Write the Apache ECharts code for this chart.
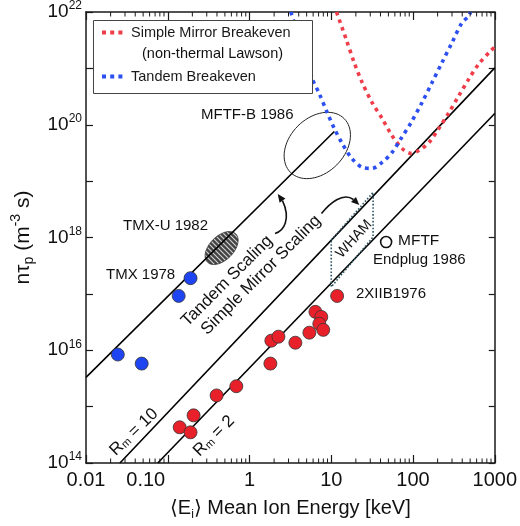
<!DOCTYPE html>
<html>
<head>
<meta charset="utf-8">
<script src="https://cdn.jsdelivr.net/npm/echarts@6/dist/echarts.min.js"></script>
<style>
  html, body { margin: 0; padding: 0; background: #fff; }
  #chart { width: 520px; height: 526px; }
</style>
</head>
<body>
<div id="chart"></div>
<script>
const FONT = '"Liberation Sans", Arial, "DejaVu Sans", sans-serif';

// Tick labels, one per decade
const xTickLabels = ['0.01', '0.10', '1', '10', '100', '1000'];
const yLabelledExponents = [14, 16, 18, 20, 22];

// Measured confinement: [mean ion energy (keV), n*tau (m^-3 s)]
const tandemShots = [[0.0245, 8.4e15], [0.048, 5.8e15], [0.136, 9.2e16], [0.19, 1.9e17]];
const mirrorShots = [
  [0.14, 4.3e14], [0.19, 3.5e14], [0.207, 7.0e14], [0.396, 1.58e15], [0.69, 2.3e15],
  [1.8, 5.8e15], [1.85, 1.48e16], [2.26, 1.74e16], [3.64, 1.36e16], [5.4, 2.05e16],
  [6.4, 4.8e16], [7.55, 3.9e16], [7.14, 2.95e16], [7.98, 2.3e16], [11.8, 9.2e16]
];
const mftfEndplug = [[46.9, 8.3e17]];

// Scaling laws
const tandemScaling = [[0.01, 3.3e15], [10.9, 7.6e19]];
const mirrorRm10 = [[0.026, 1e14], [1000, 1.02e21]];
const mirrorRm2 = [[0.0755, 1e14], [1000, 1.58e20]];

// Breakeven requirements
const simpleMirrorBreakeven = [
  [11.6, 1.0e22], [15.2, 3.3e21], [19.1, 1.26e21], [23.9, 5.6e20], [31.6, 2.47e20],
  [41.9, 1.29e20], [55.5, 6.4e19], [73.5, 3.8e19], [94.6, 3.1e19], [118, 3.5e19],
  [157, 4.85e19], [207, 8.6e19], [275, 1.64e20], [364, 3.28e20], [482, 6.5e20],
  [638, 1.2e21], [893, 2.05e21], [1000, 2.4e21]
];
const tandemBreakeven = [
  [3.2, 1.0e22], [5.86, 6.55e20], [7.14, 3.56e20], [8.93, 1.64e20], [10.9, 8.57e19],
  [13.6, 4.66e19], [17.5, 2.63e19], [23.9, 1.75e19], [31.6, 1.68e19], [41.9, 2.15e19],
  [55.5, 3.23e19], [71.4, 5.7e19], [94.6, 1.09e20], [128.8, 2.47e20], [170.6, 5.57e20],
  [225.9, 1.26e21], [299, 2.83e21], [396, 6.4e21], [482, 8.5e21], [505, 1.0e22]
];

// WHAM operating window (closed outline)
const whamWindow = [[10, 9.0e17], [32.5, 6.3e18], [32.5, 1.02e18], [10, 1.33e17], [10, 9.0e17]];

// Design targets (ellipse centres)
const mftfBTarget = [[6.75, 4.29e19]];
const tmxuTarget = [[0.456, 6.5e17]];

// Minor ticks on the energy axis: 2..9 within each decade
const minorMultipliers = [2, 3, 4, 5, 6, 7, 8, 9];
const energyDecades = [0.01, 0.1, 1, 10, 100];
const energyMinorTicks = [];
energyDecades.forEach(d => minorMultipliers.forEach(m => energyMinorTicks.push([d * m, 1e18])));

// Hatch fill for the TMX-U target
const hatch = document.createElement('canvas');
hatch.width = 5; hatch.height = 5;
(function () {
  const g = hatch.getContext('2d');
  g.fillStyle = '#444';
  g.fillRect(0, 0, 5, 5);
  g.strokeStyle = '#d4d4d4';
  g.lineWidth = 1.1;
  g.beginPath();
  g.moveTo(0, 0); g.lineTo(5, 5);
  g.moveTo(-1, 4); g.lineTo(1, 6);
  g.moveTo(4, -1); g.lineTo(6, 1);
  g.stroke();
})();

// Tilted ellipse outline around a data point, as a polygon in pixel space
function ellipseRenderer(rx, ry, angle, style) {
  return function (params, api) {
    const p = api.coord([api.value(0), api.value(1)]);
    const pts = [];
    const c = Math.cos(angle), s = Math.sin(angle);
    for (let i = 0; i < 72; i++) {
      const t = i / 72 * Math.PI * 2;
      const ex = rx * Math.cos(t), ey = ry * Math.sin(t);
      pts.push([p[0] + ex * c + ey * s, p[1] - ex * s + ey * c]);
    }
    return { type: 'polygon', shape: { points: pts }, style: style };
  };
}

function arrow(curve, tip) {
  const base = [curve[6], curve[7]];
  const dx = tip[0] - base[0], dy = tip[1] - base[1];
  const len = Math.hypot(dx, dy);
  const nx = -dy / len * 3.6, ny = dx / len * 3.6;
  return [
    {
      type: 'bezierCurve', z: 6,
      shape: { x1: curve[0], y1: curve[1], cpx1: curve[2], cpy1: curve[3], cpx2: curve[4], cpy2: curve[5], x2: curve[6], y2: curve[7] },
      style: { stroke: '#111', lineWidth: 1.6, fill: null }
    },
    {
      type: 'polygon', z: 6,
      shape: { points: [tip, [base[0] + nx, base[1] + ny], [base[0] - nx, base[1] - ny]] },
      style: { fill: '#111' }
    }
  ];
}

function label(text, x, y, opts) {
  opts = opts || {};
  return {
    type: 'text', z: 6, x: x, y: y, rotation: opts.rotation || 0,
    style: {
      text: text, fontSize: opts.fontSize || 15, fontFamily: FONT, fill: '#111',
      align: opts.align || 'left', verticalAlign: 'middle',
      rich: opts.rich
    }
  };
}

const rmRich = {
  a: { fontSize: 17, fontFamily: FONT, fill: '#111' },
  m: { fontSize: 11, fontFamily: FONT, fill: '#111', verticalAlign: 'bottom', lineHeight: 11 }
};

const axisColor = '#1a1a1a';

const chart = echarts.init(document.getElementById('chart'));
chart.setOption({
  animation: false,
  grid: { left: 86, right: 24, top: 11, bottom: 62 },
  legend: {
    orient: 'vertical', left: 95, top: 20, z: 10,
    itemWidth: 24, itemHeight: 14, itemGap: 29,
    selectedMode: false,
    itemStyle: { opacity: 0 },
    lineStyle: { width: 4, type: [4, 4.2], cap: 'butt' },
    data: ['Simple Mirror Breakeven', 'Tandem Breakeven'],
    textStyle: { fontSize: 14.5, color: '#1a1a1a', fontFamily: FONT }
  },
  xAxis: [
    {
      type: 'log', logBase: 10, min: 0.01, max: 1000, position: 'bottom',
      axisLine: { lineStyle: { color: axisColor, width: 1.5 } },
      axisTick: { inside: true, length: 8, lineStyle: { color: axisColor, width: 1.2 } },
      axisLabel: {
        margin: 7, fontSize: 20, color: '#111', fontFamily: FONT,
        formatter: v => {
          const i = Math.round(Math.log10(v)) + 2;
          return i === 1 ? '{l|' + xTickLabels[i] + '}' : xTickLabels[i];
        },
        rich: { l: { fontSize: 20, fontFamily: FONT, color: '#111', padding: [0, 44, 0, 0] } }
      },
      splitLine: { show: false },
      name: '{n|⟨E}{sub|i}{n|⟩ Mean Ion Energy [keV]}',
      nameLocation: 'middle', nameGap: 32,
      nameTextStyle: {
        color: '#111', fontFamily: FONT,
        rich: {
          n: { fontSize: 20, lineHeight: 26, fontFamily: FONT, color: '#111' },
          sub: { fontSize: 12, lineHeight: 12, verticalAlign: 'bottom', fontFamily: FONT, color: '#111' }
        }
      }
    },
    {
      type: 'log', logBase: 10, min: 0.01, max: 1000, position: 'top',
      axisLine: { lineStyle: { color: axisColor, width: 1.5 } },
      axisTick: { inside: true, length: 8, lineStyle: { color: axisColor, width: 1.2 } },
      axisLabel: { show: false },
      splitLine: { show: false }
    }
  ],
  yAxis: [
    {
      type: 'log', logBase: 10, min: 1e14, max: 1e22, position: 'left',
      axisLine: { lineStyle: { color: axisColor, width: 1.5 } },
      axisTick: { inside: true, length: 7, lineStyle: { color: axisColor, width: 1.2 } },
      axisLabel: {
        margin: 4, color: '#111', fontFamily: FONT,
        formatter: v => {
          const e = Math.round(Math.log10(v));
          return yLabelledExponents.indexOf(e) >= 0 ? '{b|10}{s|' + e + '}' : '';
        },
        rich: {
          b: { fontSize: 19, lineHeight: 24, fontFamily: FONT, color: '#111' },
          s: { fontSize: 12, lineHeight: 12, verticalAlign: 'top', fontFamily: FONT, color: '#111' }
        }
      },
      splitLine: { show: false },
      name: '{n|nτ}{sub|p}{n| (m}{sup|-3}{n| s)}',
      nameLocation: 'middle', nameGap: 40, nameRotate: 90,
      nameTextStyle: {
        color: '#111', fontFamily: FONT,
        rich: {
          n: { fontSize: 21, lineHeight: 27, fontFamily: FONT, color: '#111' },
          sub: { fontSize: 14, lineHeight: 14, verticalAlign: 'bottom', fontFamily: FONT, color: '#111' },
          sup: { fontSize: 14, lineHeight: 14, verticalAlign: 'top', fontFamily: FONT, color: '#111' }
        }
      }
    },
    {
      type: 'log', logBase: 10, min: 1e14, max: 1e22, position: 'right',
      axisLine: { lineStyle: { color: axisColor, width: 1.5 } },
      axisTick: { inside: true, length: 6, lineStyle: { color: axisColor, width: 1.2 } },
      axisLabel: { show: false },
      splitLine: { show: false }
    }
  ],
  graphic: [
    { type: 'rect', z: 5, shape: { x: 93.5, y: 20.5, width: 219, height: 73 }, style: { fill: '#fff', stroke: '#444', lineWidth: 1 } },
    label('(non-thermal Lawson)', 142, 54, { fontSize: 14.5 }),
    label('MFTF-B 1986', 201, 115),
    label('TMX-U 1982', 123, 226),
    label('TMX 1978', 106, 275),
    label('MFTF', 398, 241, { fontSize: 15.5 }),
    label('Endplug 1986', 373, 260),
    label('2XIIB1976', 356, 294),
    label('Tandem Scaling', 227, 281, { fontSize: 17, align: 'center', rotation: Math.PI / 4 }),
    label('Simple Mirror Scaling', 261, 275, { fontSize: 17, align: 'center', rotation: Math.PI / 4 }),
    label('{a|R}{m|m}{a| = 10}', 134, 432, { align: 'center', rotation: 0.77, rich: rmRich }),
    label('{a|R}{m|m}{a| = 2}', 214, 436, { align: 'center', rotation: Math.PI / 4, rich: rmRich }),
    label('WHAM', 354, 239, { fontSize: 14.5, align: 'center', rotation: 0.83 }),
    ...arrow([275, 233.5, 284, 231, 291, 219, 282.5, 200.6], [277.7, 194]),
    ...arrow([321.5, 213.5, 330, 203, 343, 192, 353.5, 199.5], [359.3, 205])
  ],
  series: [
    {
      type: 'custom', name: 'TMX-U', silent: true, clip: false,
      data: tmxuTarget,
      renderItem: ellipseRenderer(20, 12, Math.PI / 4, { fill: { image: hatch, repeat: 'repeat' }, stroke: '#333', lineWidth: 0.8 })
    },
    {
      type: 'custom', name: 'MFTF-B', silent: true, clip: false,
      data: mftfBTarget,
      renderItem: ellipseRenderer(38, 27.5, Math.PI / 4, { fill: 'none', stroke: '#222', lineWidth: 1 })
    },
    {
      type: 'line', name: 'Tandem Scaling', data: tandemScaling, symbol: 'none',
      lineStyle: { color: '#000', width: 1.6 }
    },
    {
      type: 'line', name: 'Rm = 10', data: mirrorRm10, symbol: 'none',
      lineStyle: { color: '#000', width: 1.6 }
    },
    {
      type: 'line', name: 'Rm = 2', data: mirrorRm2, symbol: 'none',
      lineStyle: { color: '#000', width: 1.6 }
    },
    {
      type: 'line', name: 'WHAM', data: whamWindow, symbol: 'none',
      lineStyle: { color: '#2c5563', width: 1.6, type: [1.6, 1.8] }
    },
    {
      type: 'line', name: 'Simple Mirror Breakeven', data: simpleMirrorBreakeven, symbol: 'none',
      smooth: 0.3, color: '#ef3d4a',
      lineStyle: { color: '#ef3d4a', width: 3.6, type: [3.6, 4.4], cap: 'butt' }
    },
    {
      type: 'line', name: 'Tandem Breakeven', data: tandemBreakeven, symbol: 'none',
      smooth: 0.3, color: '#2b4ff0',
      lineStyle: { color: '#2b4ff0', width: 3.6, type: [3.6, 4.4], cap: 'butt' }
    },
    {
      type: 'scatter', name: 'Tandem experiments', data: tandemShots, symbolSize: 13, z: 4,
      itemStyle: { color: '#1f45f3', borderColor: '#333', borderWidth: 0.8, opacity: 1 }
    },
    {
      type: 'scatter', name: 'Mirror experiments', data: mirrorShots, symbolSize: 13, z: 4,
      itemStyle: { color: '#e8202a', borderColor: '#333', borderWidth: 0.8, opacity: 1 }
    },
    {
      type: 'scatter', name: 'MFTF Endplug', data: mftfEndplug, symbolSize: 11, z: 4,
      itemStyle: { color: '#fff', borderColor: '#111', borderWidth: 1.6, opacity: 1 }
    },
    {
      type: 'custom', name: 'minor ticks', silent: true, clip: false, z: 5,
      data: energyMinorTicks,
      renderItem: function (params, api) {
        const cs = params.coordSys;
        const x = api.coord([api.value(0), api.value(1)])[0];
        const st = { stroke: axisColor, lineWidth: 1 };
        return {
          type: 'group',
          children: [
            { type: 'line', shape: { x1: x, y1: cs.y + cs.height, x2: x, y2: cs.y + cs.height - 4.5 }, style: st },
            { type: 'line', shape: { x1: x, y1: cs.y, x2: x, y2: cs.y + 4.5 }, style: st }
          ]
        };
      }
    }
  ]
});
</script>
</body>
</html>
